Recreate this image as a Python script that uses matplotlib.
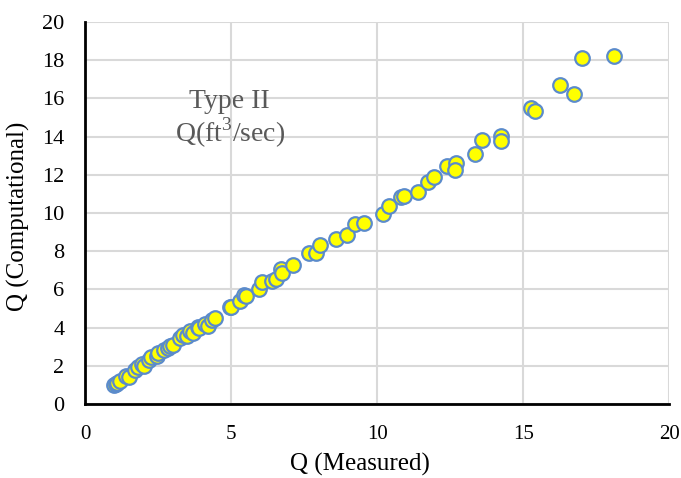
import numpy as np
import matplotlib
matplotlib.use('Agg')
import matplotlib.pyplot as plt

plt.rcParams['font.family'] = ['Liberation Serif', 'DejaVu Serif']
plt.rcParams['mathtext.fontset'] = 'custom'
plt.rcParams['mathtext.rm'] = 'Liberation Serif'

# measured vs computational discharge
q_measured = [1.0, 1.05, 1.1, 1.2, 1.4, 1.5, 1.7, 1.8, 1.95, 2.0, 2.2, 2.25, 2.45, 2.5,
              2.7, 2.85, 2.9, 3.0, 3.25, 3.35, 3.5, 3.6, 3.7, 3.85, 3.9, 4.1, 4.2, 4.35,
              4.45, 4.95, 5.0, 5.3, 5.45, 5.5, 5.95, 6.05, 6.4, 6.55, 6.7, 6.75, 7.1,
              7.65, 7.9, 8.05, 8.6, 8.95, 9.25, 9.55, 10.2, 10.4, 10.8, 10.9, 11.4, 11.75,
              11.95, 12.4, 12.7, 12.65, 13.35, 13.6, 14.25, 14.25, 15.25, 15.4, 16.25,
              16.75, 17.0, 18.1]
q_comp = [1.0, 1.05, 1.1, 1.2, 1.45, 1.4, 1.75, 1.95, 2.1, 2.0, 2.3, 2.45, 2.5, 2.65,
          2.8, 2.95, 3.05, 3.1, 3.45, 3.6, 3.55, 3.8, 3.7, 4.05, 3.95, 4.2, 4.1, 4.4,
          4.5, 5.1, 5.05, 5.4, 5.7, 5.65, 6.0, 6.4, 6.45, 6.55, 7.05, 6.85, 7.25,
          7.9, 7.9, 8.3, 8.65, 8.85, 9.4, 9.45, 9.95, 10.35, 10.85, 10.9, 11.1, 11.6,
          11.9, 12.45, 12.6, 12.25, 13.1, 13.8, 14.05, 13.75, 15.5, 15.35, 16.7,
          16.25, 18.1, 18.2]

fig = plt.figure(figsize=(6.81, 4.78), dpi=100)
ax = fig.add_axes([0.125, 0.155, 0.858, 0.799])

ax.scatter(q_measured, q_comp, s=110, facecolor='#FFFF00', edgecolor='#5B8BCB',
           linewidth=1.6, zorder=3)

ax.set_xlim(0, 20)
ax.set_ylim(0, 20)
ax.set_xticks(np.arange(0, 21, 5))
ax.set_yticks(np.arange(0, 21, 2))
ax.grid(True, color='#D9D9D9', linewidth=1.5)
ax.set_axisbelow(True)

for s in ['top', 'right']:
    ax.spines[s].set_visible(False)
for s in ['left', 'bottom']:
    ax.spines[s].set_linewidth(2)
    ax.spines[s].set_color('black')

ax.tick_params(length=0, labelsize=16)
ax.tick_params(axis='x', pad=15, labelsize=15)
ax.tick_params(axis='y', pad=15)
ax.set_xlabel('Q (Measured)', fontsize=18)
ax.set_ylabel('Q (Computational)', fontsize=18)
ax.xaxis.set_label_coords(0.47, -0.128)
ax.yaxis.set_label_coords(-0.094, 0.49)

ax.text(4.95, 14.9, 'Type II\nQ(ft$^\\mathregular{3}$/sec)', ha='center', va='center',
        fontsize=20, color='#595959', linespacing=1.05)

fig.savefig('out.png', dpi=100)
